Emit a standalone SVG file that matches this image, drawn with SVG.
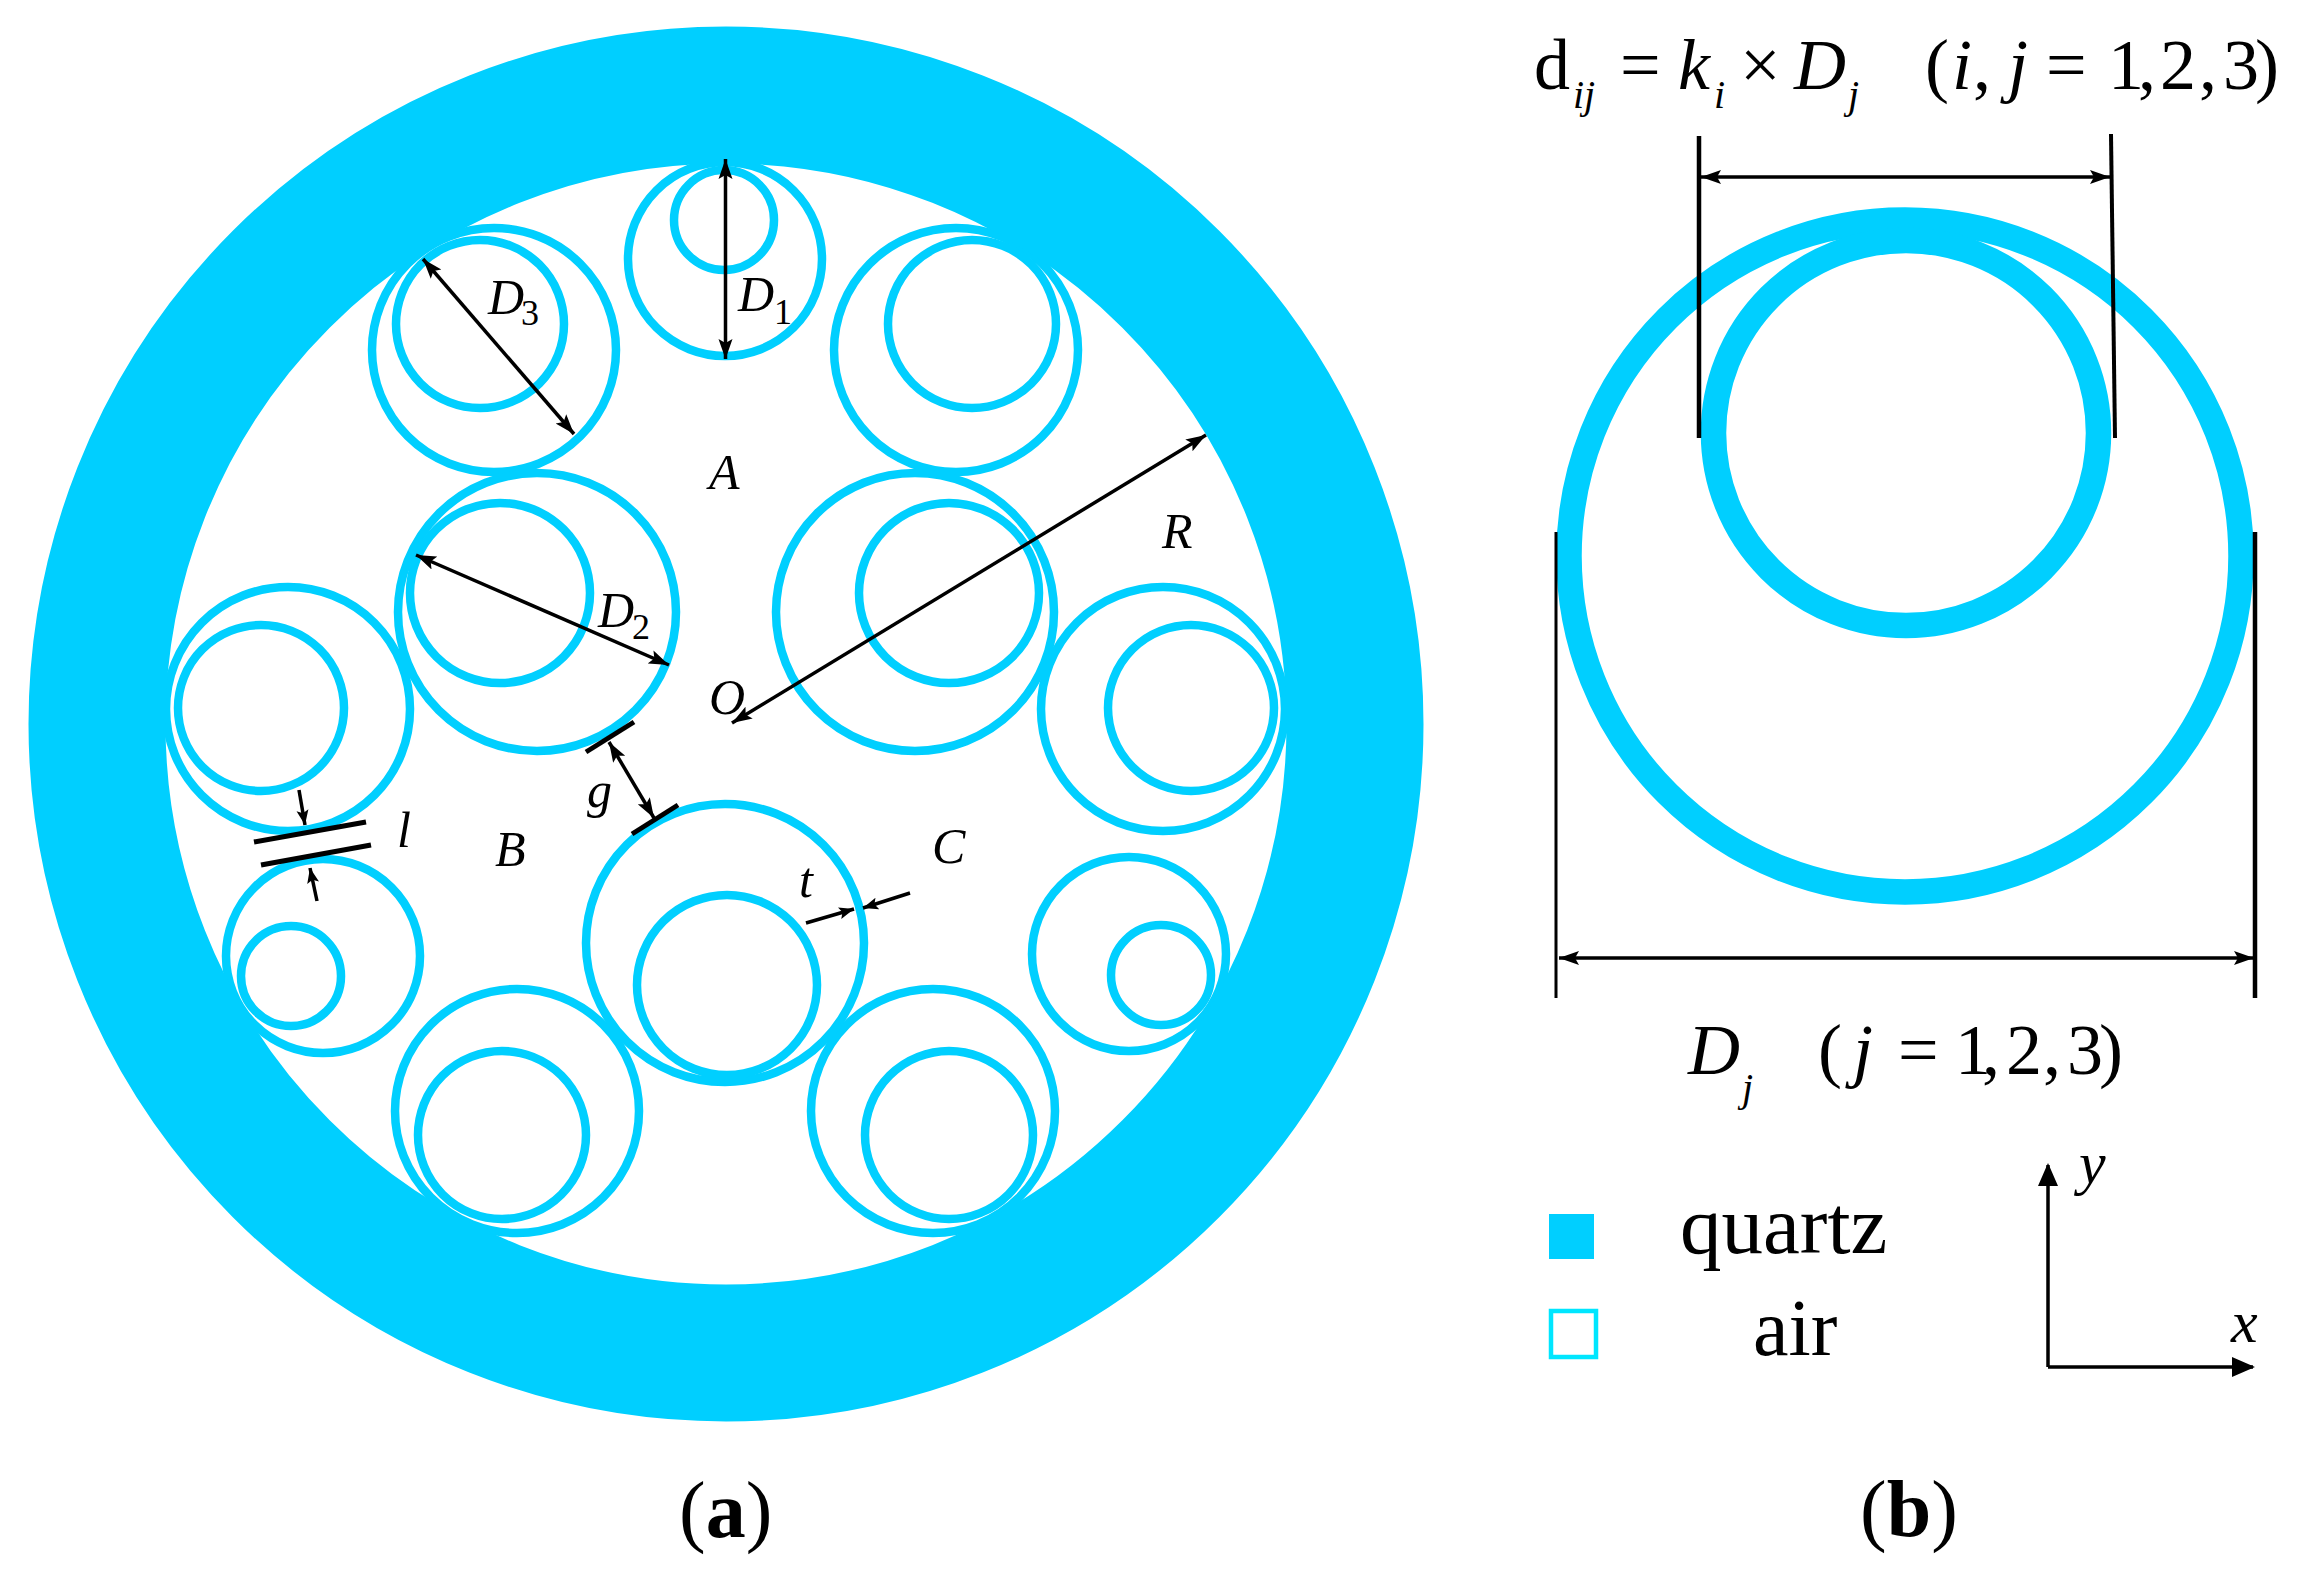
<svg xmlns="http://www.w3.org/2000/svg" width="2322" height="1580" viewBox="0 0 2322 1580">
<style>
.t{fill:none;stroke:#00cfff;stroke-width:8.5}
.b{fill:none;stroke:#00cfff;stroke-width:25.5}
.l{stroke:#000;stroke-width:3.5;fill:none}
.a{marker-start:url(#h);marker-end:url(#h)}
.s{marker-end:url(#m)}
text{font-family:"Liberation Serif","Times New Roman",serif;fill:#000}
.i{font-style:italic}
.lab{font-size:50px;font-style:italic}
.sub{font-size:36px}
.f{font-size:72px}
.fs{font-size:40px;font-style:italic}
</style>
<defs>
<marker id="h" markerUnits="userSpaceOnUse" markerWidth="24" markerHeight="16" refX="20" refY="8" orient="auto-start-reverse"><path d="M0 1L20 8L0 15L4 8Z" fill="#000"/></marker>
<marker id="m" markerUnits="userSpaceOnUse" markerWidth="18" markerHeight="14" refX="15" refY="7" orient="auto-start-reverse"><path d="M0 1L15 7L0 13L3 7Z" fill="#000"/></marker>
</defs>
<g id="tube-top"><circle class="t" cx="725" cy="259" r="97"/><circle class="t" cx="724" cy="220" r="50"/></g>
<g id="tube-upper-left"><circle class="t" cx="494" cy="350" r="122"/><circle class="t" cx="480" cy="324" r="84"/></g>
<g id="tube-upper-right"><circle class="t" cx="956" cy="350" r="122"/><circle class="t" cx="972" cy="324" r="84"/></g>
<g id="tube-left"><circle class="t" cx="288" cy="709" r="122"/><circle class="t" cx="261" cy="708" r="83"/></g>
<g id="tube-right"><circle class="t" cx="1163" cy="709" r="122"/><circle class="t" cx="1191" cy="708" r="83"/></g>
<g id="tube-lower-left"><circle class="t" cx="323" cy="956" r="97"/><circle class="t" cx="291" cy="976" r="50"/></g>
<g id="tube-lower-right"><circle class="t" cx="1129" cy="954" r="97"/><circle class="t" cx="1161" cy="975" r="50"/></g>
<g id="tube-bottom-left"><circle class="t" cx="517" cy="1111" r="122"/><circle class="t" cx="502" cy="1135" r="84"/></g>
<g id="tube-bottom-right"><circle class="t" cx="933" cy="1111" r="122"/><circle class="t" cx="949" cy="1135" r="84"/></g>
<g id="tube-inner-left"><circle class="t" cx="537" cy="612" r="139"/><circle class="t" cx="500" cy="593" r="90"/></g>
<g id="tube-inner-right"><circle class="t" cx="915" cy="612" r="139"/><circle class="t" cx="949" cy="593" r="90"/></g>
<g id="tube-inner-bottom"><circle class="t" cx="725" cy="943" r="139"/><circle class="t" cx="727" cy="985" r="90"/></g>
<g id="cladding"><circle cx="726" cy="724" r="629" fill="none" stroke="#00cfff" stroke-width="137"/></g>
<g id="unit-cell"><circle class="b" cx="1905" cy="556" r="336"/><circle class="b" cx="1906" cy="433" r="192.5"/></g>
<g id="legend">
<rect x="1549" y="1214" width="45" height="45" fill="#00cfff"/>
<rect x="1551" y="1311" width="45" height="46" fill="#fff" stroke="#00e6ff" stroke-width="4.5"/>
<text x="1680" y="1253" font-size="83">quartz</text>
<text x="1753" y="1355" font-size="80">air</text>
</g>
<g id="connectors">
<line class="l a" x1="725.5" y1="159" x2="725.5" y2="359"/>
<line class="l a" x1="423" y1="259" x2="574" y2="434"/>
<line class="l a" x1="416" y1="555" x2="669" y2="665"/>
<line class="l a" x1="1206" y1="435" x2="732" y2="723"/>
<line class="l a" x1="609" y1="742" x2="654" y2="818"/>
<line class="l" x1="586" y1="752" x2="634" y2="722" style="stroke-width:5"/>
<line class="l" x1="632" y1="834" x2="678" y2="805" style="stroke-width:5"/>
<line class="l" x1="254" y1="842" x2="366" y2="822" style="stroke-width:5"/>
<line class="l" x1="261" y1="865" x2="371" y2="845" style="stroke-width:5"/>
<line class="l s" x1="299" y1="790" x2="305" y2="825"/>
<line class="l s" x1="317" y1="901" x2="310" y2="868"/>
<line class="l s" x1="806" y1="923" x2="854" y2="909"/>
<line class="l s" x1="910" y1="893" x2="863" y2="908"/>
<line class="l" x1="1699" y1="136" x2="1699" y2="438" style="stroke-width:4.5"/>
<line class="l" x1="2111" y1="134" x2="2115" y2="438" style="stroke-width:4"/>
<line class="l a" x1="1701" y1="177" x2="2110" y2="177"/>
<line class="l" x1="1556" y1="532" x2="1556" y2="998" style="stroke-width:3"/>
<line class="l" x1="2255" y1="532" x2="2255" y2="998" style="stroke-width:4.5"/>
<line class="l a" x1="1559" y1="958" x2="2254" y2="958"/>
<path class="l" d="M2048 1367V1165"/>
<path class="l" d="M2048 1367H2253"/>
<path d="M2048 1163L2038 1186H2058Z M2255 1367L2232 1357V1377Z" fill="#000"/>
</g>
<g id="labels">
<text class="lab" x="709" y="489">A</text>
<text class="lab" x="1162" y="548">R</text>
<text class="lab" x="709" y="714">O</text>
<text class="lab" x="738" y="311">D</text><text class="sub" x="774" y="324">1</text>
<text class="lab" x="488" y="314">D</text><text class="sub" x="521" y="325">3</text>
<text class="lab" x="598" y="627">D</text><text class="sub" x="632" y="639">2</text>
<text class="lab" x="587" y="807">g</text>
<text class="lab" x="397" y="847">l</text>
<text class="lab" x="495" y="866">B</text>
<text class="lab" x="932" y="863">C</text>
<text class="lab" x="799" y="897">t</text>
<text class="f" x="1534" y="89">d</text>
<text class="fs" x="1573" y="108">ij</text>
<text class="f" x="1620" y="89">=</text>
<text class="f i" x="1678" y="89">k</text>
<text class="fs" x="1714" y="108">i</text>
<text class="f" x="1740" y="89">×</text>
<text class="f i" x="1794" y="89">D</text>
<text class="fs" x="1848" y="108">j</text>
<text class="f" x="1925" y="89">(</text>
<text class="f i" x="1952" y="89">i</text>
<text class="f" x="1973" y="89">,</text>
<text class="f i" x="2008" y="89">j</text>
<text class="f" x="2046" y="89">=</text>
<text class="f" x="2108 2138 2160 2199 2223 2255" y="89">1,2,3)</text>
<text class="f i" x="1688" y="1074">D</text>
<text class="fs" x="1742" y="1101">j</text>
<text class="f" x="1818" y="1074">(</text>
<text class="f i" x="1853" y="1074">j</text>
<text class="f" x="1898" y="1074">=</text>
<text class="f" x="1955 1982 2006 2043 2067 2099" y="1074">1,2,3)</text>
<text class="i" x="2079" y="1183" font-size="60">y</text>
<text class="i" x="2231" y="1342" font-size="60">x</text>
<text x="679" y="1537" font-size="80">(<tspan font-weight="bold">a</tspan>)</text>
<text x="1860" y="1536" font-size="80">(<tspan font-weight="bold">b</tspan>)</text>
</g>
</svg>
